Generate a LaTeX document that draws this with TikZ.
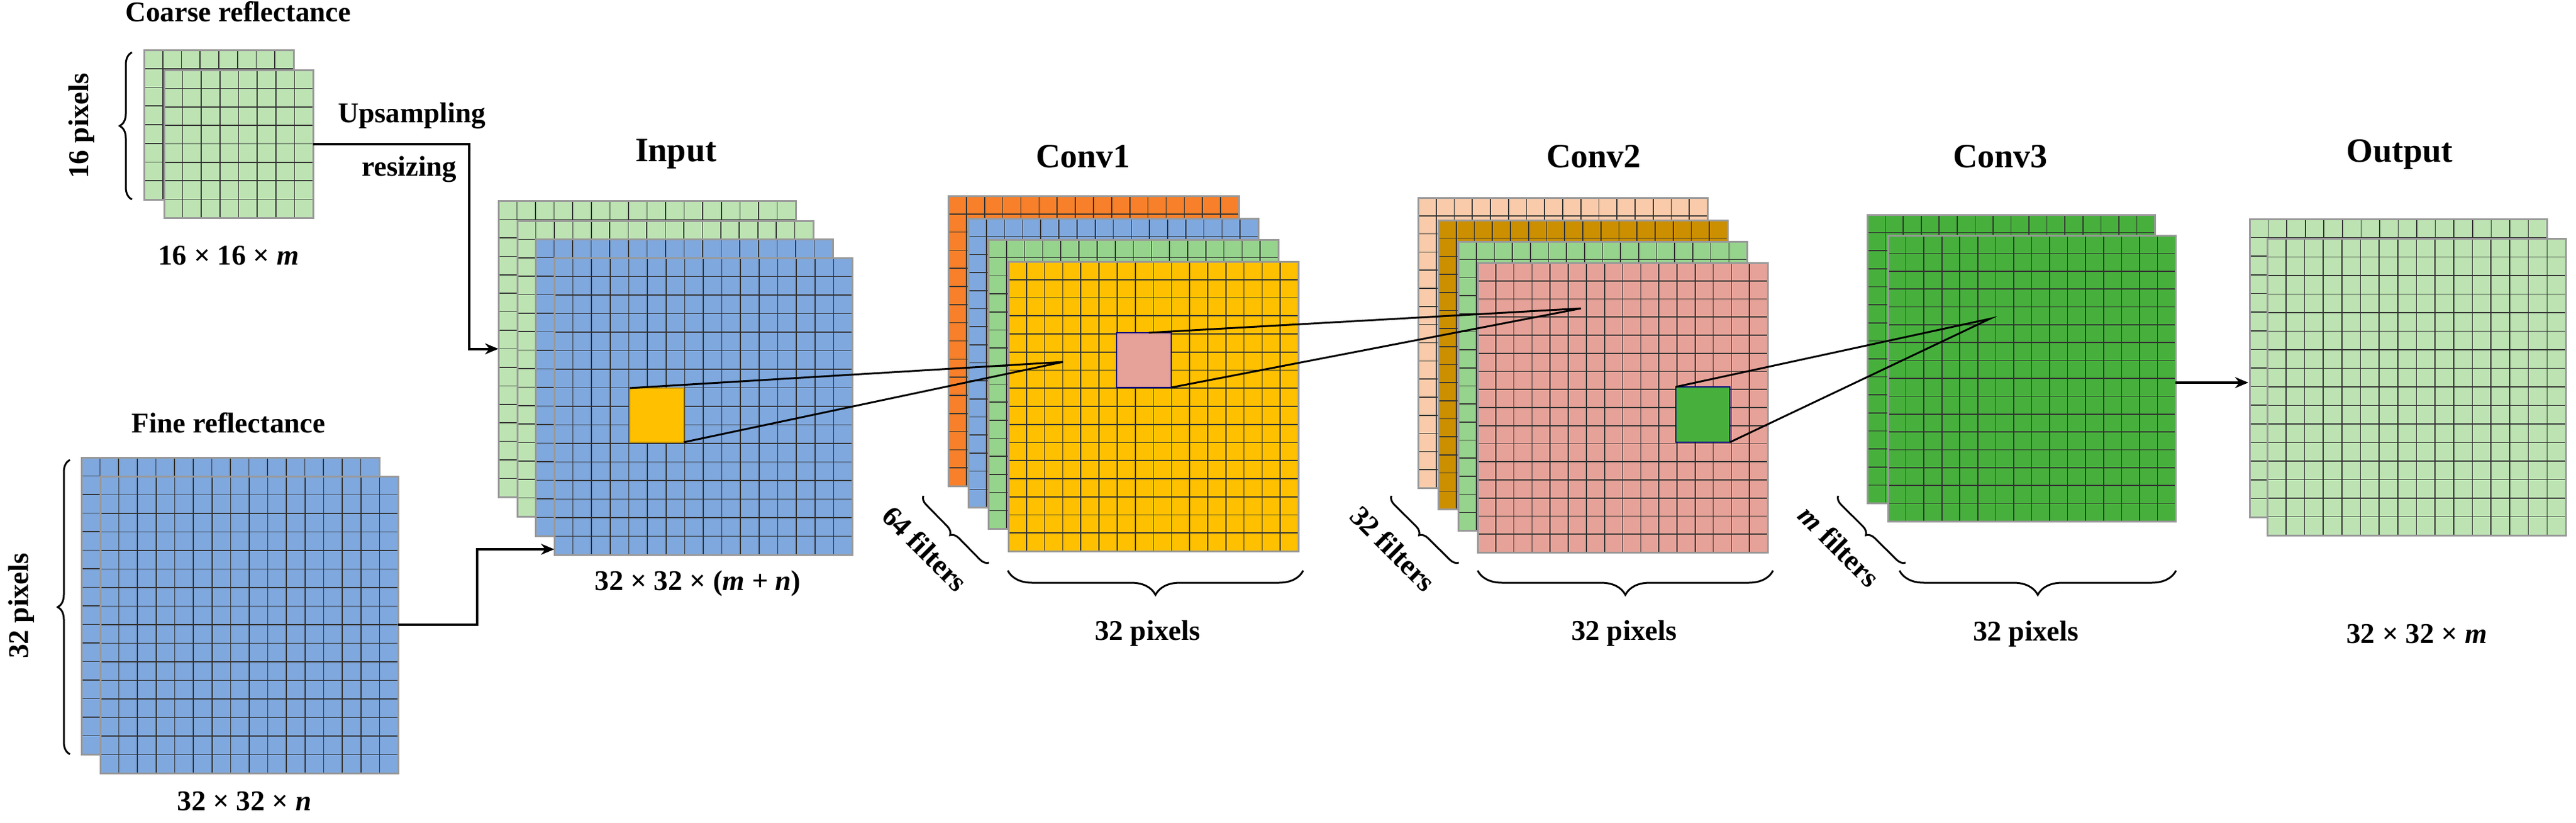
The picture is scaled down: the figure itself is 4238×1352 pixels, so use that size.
\documentclass[tikz,border=0pt]{standalone}
\usepackage{fontspec}
\setmainfont{Liberation Serif}
\usetikzlibrary{calc,decorations.pathreplacing,arrows.meta}
\definecolor{cgreen}{HTML}{BDE3B3}
\definecolor{inblue}{HTML}{7FA8DE}
\definecolor{corange}{HTML}{F8802A}
\definecolor{cgreenb}{HTML}{96D38C}
\definecolor{cyellow}{HTML}{FFC000}
\definecolor{cpink}{HTML}{E6A298}
\definecolor{cpeach}{HTML}{F9CBAA}
\definecolor{cbrown}{HTML}{CC8F00}
\definecolor{cgreen3}{HTML}{47B03D}
\tikzset{
 lay/.style={draw=black!40, line width=3pt, inner sep=0pt, outer sep=0pt, anchor=north west,
  path picture={
   \foreach \k in {1,...,#1} {
    \draw[black!80, line width=1.6pt]
     ($(path picture bounding box.south west)!{\k/(#1+1)}!(path picture bounding box.south east)$) --
     ($(path picture bounding box.north west)!{\k/(#1+1)}!(path picture bounding box.north east)$);
    \draw[black!80, line width=1.6pt]
     ($(path picture bounding box.south west)!{\k/(#1+1)}!(path picture bounding box.north west)$) --
     ($(path picture bounding box.south east)!{\k/(#1+1)}!(path picture bounding box.north east)$);
   }}},
 sq/.style={line width=2pt, inner sep=0pt, outer sep=0pt, anchor=north west},
 lbl/.style={font=\fontsize{47}{54}\selectfont\bfseries, inner sep=0pt},
 ttl/.style={font=\fontsize{56}{64}\selectfont\bfseries, inner sep=0pt},
 arr/.style={line width=4pt, -{Stealth[length=22pt,width=18pt]}},
 brc/.style={line width=3pt, decoration={brace, amplitude=#1}, decorate},
}
\newcommand\mylayer[7]{\node[lay=#6, fill=#7, minimum width={(#4-#2)*1pt}, minimum height={(#5-#3)*1pt}] (#1) at (#2,#3) {};}
\begin{document}
\begin{tikzpicture}[x=1pt,y=-1pt]
\useasboundingbox (0,0) rectangle (4238,1352);
% coarse
\mylayer{cb}{237}{82}{483}{328}{7}{cgreen}
\mylayer{cf}{270}{115}{515}{358}{7}{cgreen}
% fine
\mylayer{fb}{134}{752}{624}{1240}{15}{inblue}
\mylayer{ff}{165}{783}{655}{1271}{15}{inblue}
% input
\mylayer{in1}{820}{330}{1309}{817}{15}{cgreen}
\mylayer{in2}{851}{363}{1338}{849}{15}{cgreen}
\mylayer{in3}{881}{393}{1370}{881}{15}{inblue}
\mylayer{in4}{912}{424}{1402}{912}{15}{inblue}
% conv1
\mylayer{ca1}{1560}{322}{2038}{799}{15}{corange}
\mylayer{ca2}{1593}{359}{2070}{834}{15}{inblue}
\mylayer{ca3}{1626}{394}{2103}{869}{15}{cgreenb}
\mylayer{ca4}{1659}{430}{2136}{906}{15}{cyellow}
% conv2
\mylayer{cc1}{2333}{325}{2809}{802}{15}{cpeach}
\mylayer{cc2}{2366}{362}{2842}{837}{15}{cbrown}
\mylayer{cc3}{2399}{397}{2874}{872}{15}{cgreenb}
\mylayer{cc4}{2431}{432}{2908}{908}{15}{cpink}
% conv3
\mylayer{cd1}{3072}{353}{3545}{827}{15}{cgreen3}
\mylayer{cd2}{3106}{387}{3579}{857}{15}{cgreen3}
% output
\mylayer{o1}{3701}{360}{4190}{850}{15}{cgreen}
\mylayer{o2}{3730}{392}{4221}{880}{15}{cgreen}
% squares
\node[sq, draw=cyellow!80!black, fill=cyellow, minimum width=89pt, minimum height=89pt] (ys) at (1036,638) {};
\node[sq, draw=blue!50!black, fill=cpink, minimum width=90pt, minimum height=90pt] (ps) at (1837,547) {};
\node[sq, draw=blue!50!black, fill=cgreen3, minimum width=89pt, minimum height=91pt] (gs) at (2757,636) {};
\coordinate (p1) at (1749,595);
\coordinate (p2) at (2601,507);
\coordinate (p3) at (3274,524);
\draw[line width=3pt] (ys.north west) -- (p1) -- (ys.south east);
\draw[line width=3pt] ([xshift=8pt]ps.north) -- (p2) -- (ps.south east);
\draw[line width=3pt] (gs.north west) -- (p3) -- (gs.south east);
% connectors
\draw[arr] (cf.east) -- ++(257,0) |- (in1.west);
\draw[arr] (ff.east) -- ++(130,0) |- ([yshift=9pt]in4.south west);
\draw[arr] (cd2.east |- 0,629) -- (3699,629);
% braces
\draw[brc=20pt] (217,328) -- (217,86);
\draw[brc=20pt] (115,1240) -- (115,756);
\draw[brc=40pt] (2144,938) -- (1658,938);
\draw[brc=40pt] (2917,938) -- (2431,938);
\draw[brc=40pt] (3580,938) -- (3125,938);
\draw[brc=14pt] (1627,925) -- (1519,815);
\draw[brc=14pt] (2400,925) -- (2289,815);
\draw[brc=14pt] (3135,925) -- (3024,815);
% labels
\node[lbl] (t1) at (392,19) {Coarse reflectance};
\node[lbl, rotate=90] (t2) at (134,207) {16 pixels};
\node[lbl] (t3) at (678,190) {Upsampling};
\node[lbl] (t4) at (673,278) {resizing};
\node[lbl] (t5) at (376,420) {16 × 16 × \textit{m}};
\node[lbl] (t6) at (376,695) {Fine reflectance};
\node[lbl, rotate=90] (t7) at (35,996) {32 pixels};
\node[lbl] (t8) at (402,1317) {32 × 32 × \textit{n}};
\node[ttl] (t9) at (1112,253) {Input};
\node[lbl] (t10) at (1148,959) {32 × 32 × (\textit{m} + \textit{n})};
\node[ttl] (t11) at (1782,257) {Conv1};
\node[ttl] (t12) at (2622,257) {Conv2};
\node[ttl] (t13) at (3291,257) {Conv3};
\node[ttl] (t14) at (3948,254) {Output};
\node[lbl, rotate=-45] (t15) at (1522,902) {64 filters};
\node[lbl, rotate=-45] (t16) at (2292,902) {32 filters};
\node[lbl, rotate=-45] (t17) at (3026,898) {\textit{m} filters};
\node[lbl] (t18) at (1888,1041) {32 pixels};
\node[lbl] (t19) at (2672,1041) {32 pixels};
\node[lbl] (t20) at (3333,1042) {32 pixels};
\node[lbl] (t21) at (3976,1042) {32 × 32 × \textit{m}};
\end{tikzpicture}
\end{document}
